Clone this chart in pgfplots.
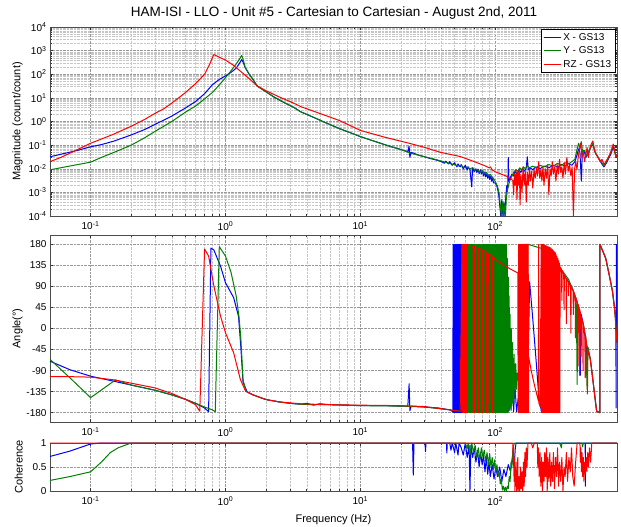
\documentclass[border=0pt]{standalone}
\usepackage{fontspec}
\setmainfont{Liberation Sans}
\usepackage{pgfplots}
\pgfplotsset{compat=1.18}
\definecolor{mblue}{rgb}{0,0,1}
\definecolor{mgreen}{rgb}{0,0.5,0}
\definecolor{mred}{rgb}{1,0,0}
\pgfplotsset{
  mstyle/.style={
    scale only axis, width=567pt, xmin=0.05, xmax=800,
    axis line style={draw=gray!60!black, line width=0.6pt},
    tick style={gray!40!black, line width=0.4pt},
    tick align=inside,
    major tick length=3pt, minor tick length=1.8pt,
    grid=both,
    major grid style={densely dotted, gray!80, line width=0.4pt},
    minor grid style={densely dotted, gray!45, line width=0.3pt},
    xtick={0.1,1,10,100},
    xticklabels={10\textsuperscript{-1},10\textsuperscript{0},10\textsuperscript{1},10\textsuperscript{2}},
    tick label style={font=\fontsize{10}{11}\selectfont},
    xticklabel style={yshift=-2pt},
    label style={font=\fontsize{11}{12}\selectfont},
    every axis plot/.append style={line width=1pt, line join=round},
    ylabel style={at={(axis description cs:-0.042,0.5)}, anchor=south},
  }
}
\begin{document}
\begin{tikzpicture}[x=1pt,y=1pt]
\useasboundingbox (0,0) rectangle (621,-527);
\node[font=\fontsize{13.5}{15}\selectfont] at (334,-13) {HAM-ISI - LLO - Unit \#5 - Cartesian to Cartesian - August 2nd, 2011};
% ---------------- magnitude ----------------
\begin{loglogaxis}[mstyle, at={(50pt,-27pt)}, anchor=north west, height=189pt,
  ymin=1e-4, ymax=1e4,
  ytick={1e-4,1e-3,1e-2,1e-1,1,1e1,1e2,1e3,1e4},
  yticklabels={10\textsuperscript{-4},10\textsuperscript{-3},10\textsuperscript{-2},10\textsuperscript{-1},10\textsuperscript{0},10\textsuperscript{1},10\textsuperscript{2},10\textsuperscript{3},10\textsuperscript{4}},
  ylabel={Magnitude (count/count)},
  legend style={at={(0.997,0.99)}, anchor=north east, draw=black, fill=white, font=\fontsize{10}{11}\selectfont, inner sep=2pt, row sep=1pt},
  legend cell align=left]
\addplot[mblue] coordinates {(0.05,0.032)(0.06,0.041)(0.07,0.05)(0.08,0.06)(0.09,0.072)(0.1,0.085)(0.12,0.105)(0.15,0.15)(0.2,0.27)(0.25,0.45)(0.3,0.75)(0.4,1.7)(0.5,3.6)(0.6,7)(0.7,15)(0.8,36)(0.9,60)(1.0,85)(1.1,120)(1.2,180)(1.27,290)(1.32,420)(1.36,300)(1.4,190)(1.5,100)(1.6,60)(1.72,32)(2.0,18)(2.28,11)(2.7,6.5)(3.2,4)(3.6,2.6)(4.5,1.5)(5.5,0.9)(7,0.5)(8.5,0.33)(10,0.23)(13,0.14)(17,0.085)(20,0.065)(22.5,0.053)(23,0.09)(23.3,0.03)(23.7,0.05)(27,0.038)(30,0.032)(33,0.027)(36,0.024)(40,0.02)(42,0.017)(43,0.021)(45,0.016)(46,0.02)(48,0.014)(50,0.018)(52,0.012)(53,0.016)(55,0.012)(56,0.015)(58,0.01)(60,0.014)(62,0.009)(63,0.012)(65,0.009)(67,0.0017)(68,0.011)(70,0.0075)(72,0.01)(73,0.007)(75,0.0095)(76,0.0062)(78,0.009)(79,0.006)(81,0.0082)(82,0.005)(84,0.0072)(85,0.0045)(87,0.0062)(88,0.004)(90,0.0058)(91,0.0035)(93,0.005)(94,0.003)(96,0.0045)(97,0.0025)(100,0.0025)(103,0.0018)(106,0.0009)(108,0.0003)(110,0.0001)(112,0.0005)(114,0.0001)(116,0.0004)(118,0.0001)(120,0.0007)(122,0.002)(124,0.0015)(125,0.03)(126,0.003)(129,0.004)(133,0.006)(137,0.005)(140,0.008)(145,0.006)(150,0.009)(155,0.007)(160,0.01)(165,0.008)(170,0.011)(173,0.032)(176,0.009)(182,0.011)(190,0.009)(200,0.012)(215,0.01)(230,0.013)(250,0.011)(270,0.014)(290,0.012)(310,0.015)(330,0.013)(350,0.017)(370,0.014)(390,0.02)(405,0.04)(415,0.07)(425,0.05)(435,0.003)(442,0.04)(455,0.06)(470,0.03)(490,0.045)(510,0.08)(530,0.11)(550,0.05)(580,0.03)(610,0.018)(640,0.012)(670,0.018)(700,0.03)(730,0.05)(750,0.09)(770,0.05)(800,0.03)};
\addplot[mgreen] coordinates {(0.05,0.009)(0.06,0.011)(0.07,0.013)(0.08,0.015)(0.09,0.017)(0.1,0.019)(0.12,0.03)(0.15,0.05)(0.2,0.1)(0.25,0.2)(0.3,0.38)(0.4,1.0)(0.5,2.4)(0.6,4.5)(0.7,9)(0.8,17)(0.9,35)(1.0,72)(1.1,140)(1.2,270)(1.28,470)(1.32,630)(1.36,380)(1.4,200)(1.5,100)(1.6,60)(1.72,31)(2.0,18)(2.28,11)(2.7,6.5)(3.2,4)(3.6,2.6)(4.5,1.5)(5.5,0.9)(7,0.5)(8.5,0.33)(10,0.23)(13,0.14)(17,0.085)(20,0.065)(23.4,0.046)(30,0.032)(35,0.026)(40,0.021)(44,0.018)(47,0.016)(50,0.015)(53,0.013)(56,0.014)(59,0.011)(62,0.012)(65,0.01)(68,0.011)(71,0.0085)(74,0.0095)(77,0.007)(80,0.0085)(83,0.006)(86,0.007)(89,0.005)(92,0.0058)(95,0.0042)(98,0.0036)(101,0.0026)(104,0.0018)(107,0.0009)(109,0.0003)(111,0.0001)(113,0.0004)(115,0.0001)(117,0.0003)(119,0.0001)(121,0.0006)(124,0.0015)(128,0.003)(133,0.005)(137,0.007)(142,0.009)(147,0.008)(152,0.011)(157,0.009)(162,0.012)(167,0.01)(172,0.013)(180,0.011)(190,0.013)(200,0.011)(215,0.014)(230,0.012)(250,0.015)(270,0.013)(290,0.017)(310,0.014)(330,0.018)(350,0.016)(370,0.02)(390,0.025)(400,0.05)(415,0.12)(425,0.08)(435,0.14)(445,0.05)(460,0.06)(475,0.035)(490,0.05)(510,0.08)(530,0.12)(550,0.05)(580,0.03)(610,0.02)(640,0.013)(670,0.02)(700,0.035)(730,0.06)(750,0.1)(770,0.05)(800,0.03)};
\addplot[mred] coordinates {(0.05,0.02)(0.06,0.03)(0.07,0.045)(0.08,0.065)(0.09,0.09)(0.1,0.12)(0.12,0.18)(0.15,0.3)(0.2,0.63)(0.25,1.2)(0.3,2.2)(0.35,3.5)(0.4,6)(0.5,16)(0.6,40)(0.7,100)(0.76,250)(0.8,500)(0.82,680)(0.9,520)(1.0,400)(1.15,236)(1.3,130)(1.5,65)(1.72,32)(2.0,20)(2.5,11)(3.2,6)(3.6,4.3)(5,2.2)(7,1.1)(10,0.42)(15,0.22)(23,0.12)(30,0.08)(39,0.05)(55,0.033)(70,0.02)(85,0.013)(90,0.011)(92,0.012)(95,0.009)(100,0.0075)(110,0.006)(120,0.005)(130,0.0038)(135,0.0032)(137,0.0008)(139,0.006)(141,0.002)(143,0.009)(145,0.0005)(147,0.007)(149,0.002)(151,0.01)(153,0.0003)(155,0.006)(158,0.001)(161,0.012)(164,0.002)(167,0.008)(170,0.0004)(173,0.007)(176,0.002)(179,0.01)(182,0.003)(186,0.008)(190,0.0015)(194,0.009)(198,0.004)(202,0.011)(206,0.005)(210,0.02)(214,0.004)(218,0.009)(222,0.003)(226,0.012)(230,0.002)(235,0.01)(240,0.004)(245,0.015)(250,0.0008)(255,0.01)(260,0.005)(265,0.02)(270,0.006)(276,0.012)(282,0.003)(288,0.015)(294,0.006)(300,0.025)(306,0.007)(312,0.012)(318,0.004)(325,0.018)(332,0.006)(340,0.03)(348,0.008)(356,0.015)(364,0.005)(372,0.012)(380,0.0001)(388,0.01)(396,0.02)(404,0.009)(412,0.03)(420,0.06)(430,0.12)(440,0.03)(450,0.05)(460,0.02)(470,0.04)(480,0.08)(490,0.03)(500,0.06)(515,0.11)(530,0.15)(545,0.06)(560,0.04)(580,0.03)(600,0.02)(620,0.025)(640,0.015)(660,0.02)(690,0.03)(720,0.05)(750,0.11)(770,0.06)(785,0.03)(800,0.04)};
\legend{X - GS13, Y - GS13, RZ - GS13}
\end{loglogaxis}
% ---------------- phase ----------------
\begin{semilogxaxis}[mstyle, at={(50pt,-235pt)}, anchor=north west, height=187pt,
  ymin=-200, ymax=200, ytick={-180,-135,-90,-45,0,45,90,135,180},
  yticklabels={-180,-135,-90,-45,0,45,90,135,180},
  minor y tick num=0,
  ylabel={Angle(°)}]
\addplot[mblue] coordinates {(0.05,-70)(0.07,-88)(0.1,-102)(0.15,-113)(0.2,-121)(0.3,-132)(0.4,-142)(0.5,-151)(0.6,-160)(0.7,-170)(0.75,-178)(0.78,172)(0.82,168)(0.92,133)(1.0,98)(1.15,66)(1.25,26)(1.3,-40)(1.35,-115)(1.45,-136)(1.6,-142)(2,-152)(2.5,-157)(3,-160)(3.6,-162)(4,-160)(4.5,-164)(5,-161)(6,-163)(8,-164)(10,-165)(15,-165)(20,-166)(22.5,-166)(23,-118)(23.3,-176)(23.8,-166)(30,-168)(38,-170)(46,-174)(48,-177)(48.6,-179)(48.7,180)(49.2,-180)(49.7,180)(50.2,-180)(50.7,180)(51.2,-180)(51.7,180)(52.2,-180)(52.7,180)(53.2,-180)(53.7,180)(54.2,-180)(54.7,180)(55.2,-180)(55.7,180)(56.2,-180)(56.7,180)(57.2,-180)(62,180)(67,-180)(72,180)(77,-180)(82,180)(87,-180)(92,180)(97,-180)(102,180)(107,-180)(112,180)(117,-180)(121,180)(122,-170)(123,0)(124,-175)(125,-20)(127,-170)(129,-50)(131,-175)(134,-80)(137,-178)(140,-120)(144,-178)(148,-150)(155,-170)(160,-178)(165,-175)(167,180)(169,-180)(171,180)(173,-175)(180,100)(190,20)(200,-60)(210,-140)(220,-178)(226,180)(250,160)(280,140)(303,130)(330,110)(360,95)(380,80)(400,60)(420,40)(428,-100)(434,30)(450,9)(465,-20)(470,-105)(476,-35)(490,-50)(506,-63)(530,-110)(565,-177)(596,-180)(598,180)(660,150)(700,115)(740,80)(770,40)(785,15)(788,-170)(792,180)(796,-10)(800,-30)};
\addplot[mgreen] coordinates {(0.05,-66)(0.07,-105)(0.1,-148)(0.125,-128)(0.153,-110)(0.2,-121)(0.3,-132)(0.4,-142)(0.5,-151)(0.6,-160)(0.7,-168)(0.8,-174)(0.84,-178)(0.9,175)(1.0,155)(1.1,120)(1.2,70)(1.26,25)(1.3,-20)(1.35,-110)(1.42,-134)(1.6,-142)(2,-152)(2.5,-157)(3,-160)(3.6,-162)(4.5,-163)(6,-163)(10,-165)(20,-166)(30,-168)(46,-174)(52,-176)(56,-177)(57,180)(57.6,-180)(58.2,180)(58.8,-180)(59.4,180)(60,-180)(60.6,180)(61.2,-180)(61.8,180)(62.4,-180)(63,180)(63.6,-180)(64.2,180)(64.8,-180)(65.4,180)(66,-180)(66.6,180)(67.2,-180)(67.8,180)(68.4,-180)(69,180)(69.6,-180)(70.2,180)(71,-180)(71.8,180)(72.6,-180)(73.4,180)(74.2,-180)(75,180)(75.8,-180)(76.6,180)(77.4,-180)(78.2,180)(79,-180)(79.8,180)(80.6,-180)(81.4,180)(82.2,-180)(83,180)(83.8,-180)(84.6,180)(85.4,-180)(86.2,180)(87,-180)(87.8,180)(88.6,-180)(89.4,180)(90.2,-180)(91.2,180)(92.2,-180)(93.2,180)(94.2,-180)(95.2,180)(96.2,-180)(97.2,180)(98.2,-180)(99.2,180)(100.2,-180)(101.2,180)(102.2,-180)(103.2,180)(104.2,-180)(105.2,180)(106.2,-180)(107.2,180)(108.2,-180)(109.2,180)(110.2,-180)(111.2,180)(112.2,-180)(113.2,180)(114.2,-180)(115.2,180)(116.2,-180)(117.2,180)(118.2,-180)(119.2,180)(120.2,-180)(121.2,180)(122.2,-180)(123,150)(124,-180)(125,110)(126,-178)(127,70)(128,-175)(129,30)(130,-170)(131.5,0)(133,-165)(134.5,-30)(136,-160)(138,-55)(140,-150)(142,-75)(144,-130)(146,-95)(148,-110)(155,-130)(165,-170)(172,-178)(175,180)(200,175)(228,170)(260,150)(303,130)(350,105)(380,80)(400,50)(405,-120)(410,40)(450,9)(470,-20)(480,-130)(488,-40)(506,-63)(530,-110)(565,-177)(596,-180)(598,180)(660,150)(700,115)(740,80)(770,40)(800,-30)};
\addplot[mred] coordinates {(0.05,-103)(0.07,-103)(0.1,-104)(0.15,-110)(0.2,-117)(0.3,-127)(0.4,-139)(0.5,-151)(0.6,-163)(0.645,-177)(0.70,170)(0.75,155)(0.82,91)(0.92,26)(1.0,-9)(1.15,-52)(1.29,-109)(1.41,-134)(1.6,-142)(2,-152)(2.5,-157)(3,-159)(3.6,-161)(4.5,-162)(6,-163)(10,-164)(20,-165)(30,-167)(46,-174)(55,-177)(56.7,180)(57.2,-180)(57.7,180)(58.2,-180)(58.7,180)(59.2,-180)(59.7,180)(60.2,-180)(60.7,180)(61.2,-180)(61.7,180)(62,179)(68.5,176)(68.5,-180)(68.9,176)(69.3,-180)(69.7,176)(70.1,-180)(70.5,175)(74.5,172)(74.5,-180)(74.9,172)(75.3,-180)(75.7,171)(76.1,-180)(76.5,171)(79.5,168)(79.5,-180)(80,168)(80.5,-180)(81,167)(81.5,-180)(82,167)(86,162)(86.4,-180)(86.9,162)(87.4,-180)(87.9,161)(88.4,-180)(88.9,160)(94,156)(94.5,-180)(95,155)(95.5,-180)(96,155)(96.5,-180)(97,154)(100,147)(110,140)(120,133)(130,127)(140,122)(147,119)(148,-180)(149.2,180)(150.4,-180)(151.6,180)(152.8,-180)(154,180)(155.2,-180)(156.4,180)(157.6,-180)(158.8,180)(160,-180)(161.2,180)(162.4,-180)(163.6,180)(164.8,-180)(166,180)(167.2,-180)(168.4,180)(169.6,-180)(170.8,180)(172,-180)(173.2,180)(174.4,-180)(175.6,180)(176.8,-180)(177,-60)(185,-90)(195,-120)(205,-145)(209,-155)(210,180)(211,-160)(216,-168)(219,180)(221,-180)(223,180)(225,-180)(227,180)(229,-180)(231,179)(233,-180)(235,178)(237,-180)(239,177)(241,-180)(243,176)(245,-180)(247,175)(249,-180)(251,174)(253,-180)(255,173)(257,-180)(259,172)(261,-180)(263,170)(265,-180)(267,168)(269,-180)(271,166)(273,-180)(275,164)(277,-180)(279,162)(281,-180)(283,158)(285,-180)(287,154)(289,-180)(291,150)(293,-180)(295,145)(297,-180)(299,140)(301,-180)(303,132)(310,126)(312,60)(314,124)(322,117)(324,40)(326,115)(335,108)(337,10)(339,106)(348,100)(350,70)(352,98)(362,92)(364,-10)(366,90)(378,81)(380,30)(382,79)(392,70)(394,-20)(396,67)(408,55)(410,-80)(412,52)(420,42)(422,-100)(424,40)(432,28)(434,-60)(436,25)(446,13)(448,-90)(450,10)(462,-10)(465,-105)(468,-15)(480,-40)(483,-140)(486,-45)(500,-58)(506,-65)(520,-90)(535,-120)(550,-150)(565,-177)(590,-179)(596,-180)(597,180)(630,165)(660,150)(700,115)(740,80)(770,40)(800,-30)};
\end{semilogxaxis}
% ---------------- coherence ----------------
\begin{semilogxaxis}[mstyle, at={(50pt,-443pt)}, anchor=north west, height=48pt,
  ymin=0, ymax=1, ytick={0,0.5,1}, yticklabels={0,0.5,1},
  minor y tick num=0, clip=false,
  ylabel={Coherence}, xlabel={Frequency (Hz)}, xlabel style={yshift=-3pt}]
\addplot[mblue] coordinates {(0.05,0.72)(0.07,0.83)(0.1,0.98)(0.12,1)(24.4,1)(24.7,0.33)(25,1)(30.2,1)(30.4,0.82)(30.7,1)(43.5,1)(43.8,0.79)(44.1,1)(46,1)(47,0.85)(48,1)(50,0.8)(51,1)(53,0.75)(54,1)(56,0.9)(58,0.75)(60,1)(62,0.7)(64,0.95)(65,0)(66,0.95)(68,0.7)(70,0.9)(72,0.6)(74,0.85)(76,0.5)(78,0.8)(80,0.55)(82,0.75)(84,0.4)(86,0.7)(88,0.35)(90,0.6)(92,0.3)(95,0.55)(98,0.25)(101,0.5)(104,0.3)(108,0.5)(112,0.2)(116,0.45)(120,0.3)(125,0.55)(130,0.4)(134,0.7)(138,0.5)(141,0.9)(143,1)(465,1)(466,0.1)(467,1)(800,1)};
\addplot[mgreen] coordinates {(0.05,0.22)(0.07,0.3)(0.1,0.4)(0.12,0.6)(0.14,0.8)(0.16,0.9)(0.2,1)(60,1)(62,0.88)(63,1)(65,0.75)(67,1)(69,0.8)(71,0.95)(73,0.7)(75,0.9)(77,0.65)(79,0.9)(81,0.72)(83,0.85)(85,0.62)(87,0.8)(89,0.55)(91,0.78)(93,0.5)(95,0.7)(97,0.45)(99,0.65)(101,0.4)(103,0.55)(105,0.3)(107,0.4)(109,0.15)(111,0.25)(113,0.02)(115,0.1)(117,0)(119,0.08)(121,0)(123,0.1)(125,0.05)(127,0.3)(129,0.2)(131,0.6)(133,0.5)(135,0.85)(137,0.95)(139,1)(300,1)(310,0.9)(312,1)(440,1)(445,0.92)(450,1)(800,1)};
\addplot[mred] coordinates {(0.05,1)(135,1)(136,0.6)(137,0.9)(138,0.2)(139,0.7)(140,0)(141,0.5)(142,0.1)(143,0.6)(144,0)(145,0.4)(146,0.05)(147,0.7)(148,0)(150,0.3)(152,0)(154,0.5)(156,0.05)(158,0.4)(160,0)(162,0.6)(164,0.1)(166,0.8)(168,0.3)(170,0.9)(172,0.5)(175,1)(185,1)(190,0.9)(195,1)(205,1)(207,0.5)(209,0.9)(212,0.3)(215,0.8)(218,0.1)(221,0.7)(224,0)(227,0.6)(230,0.2)(233,0.8)(236,0.3)(240,0.9)(243,0)(246,0.7)(250,0.2)(254,0.8)(258,0.1)(262,0.6)(266,0.2)(270,0.8)(275,0.05)(280,0.7)(285,0.3)(290,0.9)(295,0.1)(300,0.6)(306,0.2)(312,0.7)(318,0)(324,0.5)(330,0.3)(337,0.8)(344,0.2)(352,0.7)(360,0.4)(368,0.9)(376,0.3)(385,0.1)(395,0.6)(405,1)(425,1)(428,0.6)(432,0.9)(436,0.4)(440,0.8)(445,0.3)(450,0.7)(455,0.2)(460,0.6)(466,0.35)(472,0.7)(478,0.4)(485,0.8)(492,0.5)(500,0.9)(510,0.6)(520,1)(800,1)};
\end{semilogxaxis}
\end{tikzpicture}
\end{document}
